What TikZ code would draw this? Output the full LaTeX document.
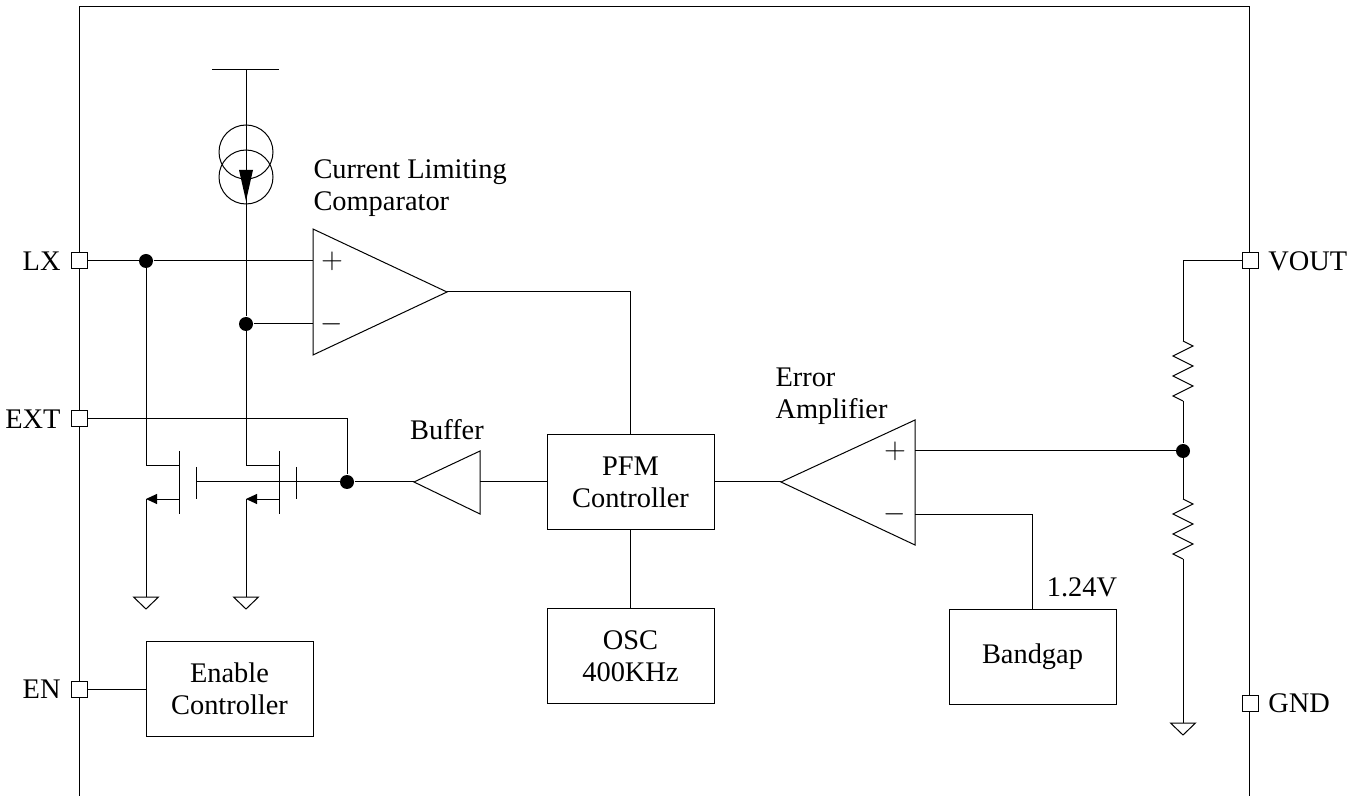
\documentclass[tikz,border=0pt]{standalone}
\usepackage{fontspec}
\setmainfont{Liberation Serif}
\usetikzlibrary{arrows.meta,positioning}

% 接地符号和电阻
\newcommand{\gndsym}[1]{\draw (#1) ++(-12.5,0) -- ++(25,0) -- ++(-12.5,12) -- cycle;}
\newcommand{\zigres}[1]{\draw (#1) -- ++(10,5) -- ++(-20,10) -- ++(20,10) -- ++(-20,10) -- ++(20,10) -- ++(-20,10) -- ++(10,5);}

\begin{document}
\begin{tikzpicture}[x=0.5pt,y=-0.5pt,line width=0.5pt]
    \fontsize{14.2pt}{16pt}\selectfont  % 字体大小
    \tikzstyle{block}=[rectangle,draw,minimum width=83.5pt,minimum height=47.5pt,align=center,inner sep=0pt]  % 方框
    \tikzstyle{pinbox}=[rectangle,draw,fill=white,minimum size=8pt,inner sep=0pt]  % 引脚
    \tikzstyle{joint}=[circle,fill,minimum size=7pt,inner sep=0pt]  % 连接点
    \tikzstyle{lbl}=[align=left,inner sep=0pt]  % 说明文字
    \tikzstyle{srcarrow}=[-{Triangle[length=5.5pt,width=5pt]}]  % 源极箭头
    \useasboundingbox (0,0) rectangle (1360,796);

    % 外框
    \draw (79,796) -- (79,7) -- (1249,7) -- (1249,796);

    % 引脚
    \node[pinbox](lx) at (79,261){};
    \node[pinbox](ext) at (79,419){};
    \node[pinbox](en) at (79,689){};
    \node[pinbox](vout) at (1250,261){};
    \node[pinbox](gnd) at (1250,703){};
    \node[left=0pt of lx](lxt){LX};
    \node[left=0pt of ext](extt){EXT};
    \node[left=0pt of en](ent){EN};
    \node[right=0pt of vout](voutt){VOUT};
    \node[right=0pt of gnd](gndt){GND};

    % 方框
    \node[block](pfm) at (630.5,482){PFM\\Controller};
    \node[block,below of=pfm,node distance=87pt](osc){OSC\\400KHz};
    \node[block](enb) at (229.5,689){Enable\\Controller};
    \node[block](bg) at (1032.5,657){Bandgap};

    % 比较器
    \coordinate (cmpp) at (313,261);
    \coordinate (cmpn) at (313,324);
    \coordinate (cmpo) at (447,292);
    \draw (313,229) -- (cmpo) -- (313,355) -- cycle;
    \node(cmpplus) at (332,261){$+$};
    \node(cmpminus) at (332,324){$-$};
    \node[lbl,anchor=west](cmpt) at (313,188){Current Limiting\\Comparator};

    % 缓冲器
    \coordinate (bufo) at (414,482);
    \coordinate (bufi) at (480,482);
    \draw (480,451) -- (bufo) -- (480,514) -- cycle;
    \node(buft) at (447,430){Buffer};

    % 误差放大器
    \coordinate (eao) at (781,482);
    \coordinate (eap) at (915,451);
    \coordinate (ean) at (915,514);
    \draw (915,420) -- (eao) -- (915,545) -- cycle;
    \node(eaplus) at (895,451){$+$};
    \node(eaminus) at (895,514){$-$};
    \node[lbl,anchor=west](eat) at (775,396){Error\\Amplifier};

    % 电流源
    \coordinate (vdd) at (246,70);
    \draw (212,70) -- (279,70);
    \draw (246,152) circle[radius=13.5pt];
    \draw (246,177) circle[radius=13.5pt];
    \fill (239,170) -- (253,170) -- (246,201) -- cycle;

    % MOS管
    \coordinate (q1d) at (179,466);
    \coordinate (q1s) at (179,499);
    \coordinate (q2d) at (279,466);
    \coordinate (q2s) at (279,499);
    \draw (179,451) -- (179,514);
    \draw (196,467) -- (196,499);
    \draw (279,451) -- (279,514);
    \draw (296,467) -- (296,499);

    % 连接点
    \node[joint](lxdot) at (146,261){};
    \node[joint](isdot) at (246,324){};
    \node[joint](gdot) at (347,482){};
    \node[joint](fbdot) at (1183,451){};

    % 电阻
    \coordinate (r1t) at (1183,341);
    \coordinate (r1b) at (1183,401);
    \coordinate (r2t) at (1183,499);
    \coordinate (r2b) at (1183,559);
    \zigres{r1t}
    \zigres{r2t}

    % 接地
    \coordinate (g1) at (146,597);
    \coordinate (g2) at (246,597);
    \coordinate (g3) at (1183,723);
    \gndsym{g1}
    \gndsym{g2}
    \gndsym{g3}

    % 开始画线
    \draw (lx.east) -- (lxdot) -- (cmpp);
    \draw (lxdot) |- (q1d);
    \draw (vdd) -- (isdot) |- (q2d);
    \draw (isdot) -- (cmpn);
    \draw (ext.east) -| (gdot);
    \draw (196,482) -- (gdot);
    \draw (gdot) -- (bufo);
    \draw[srcarrow] (q1s) -- (146,499);
    \draw[srcarrow] (q2s) -- (246,499);
    \draw (146,499) -- (g1);
    \draw (246,499) -- (g2);
    \draw (cmpo) -| (pfm.north);
    \draw (bufi) -- (pfm.west);
    \draw (pfm.east) -- (eao);
    \draw (pfm.south) -- (osc.north);
    \draw (en.east) -- (enb.west);
    \draw (eap) -- (fbdot);
    \draw (ean) -| (bg.north);
    \node(vref) at (1082,587){1.24V};
    \draw (vout.west) -| (r1t);
    \draw (r1b) -- (fbdot) -- (r2t);
    \draw (r2b) -- (g3);
\end{tikzpicture}
\end{document}
